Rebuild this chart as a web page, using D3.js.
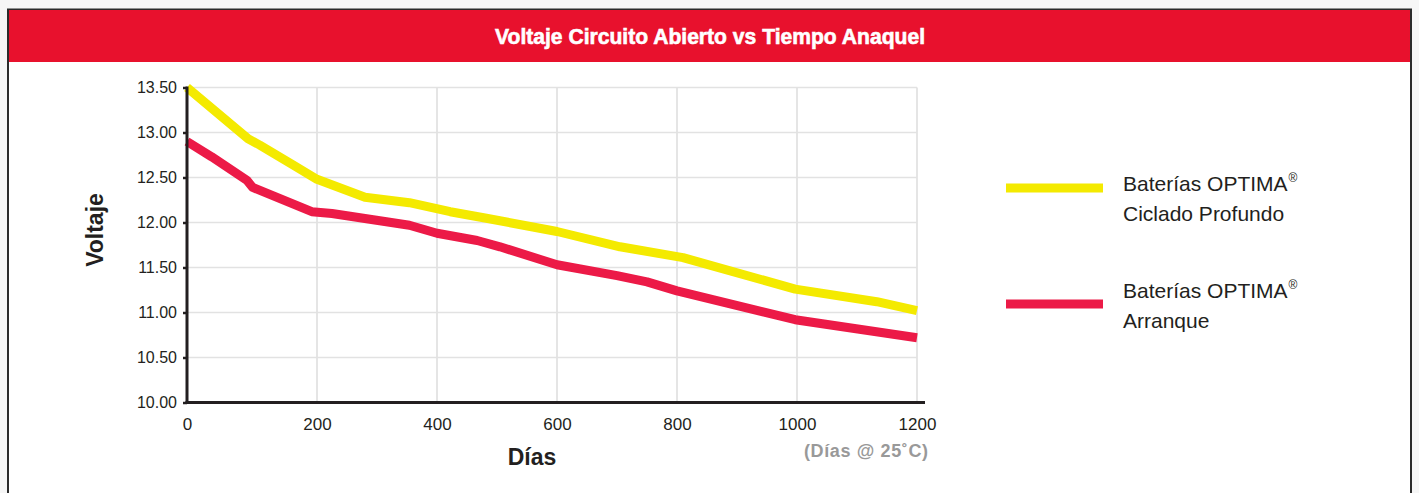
<!DOCTYPE html>
<html>
<head>
<meta charset="utf-8">
<script src="https://cdn.jsdelivr.net/npm/d3@7"></script>
<style>
  html, body { margin: 0; padding: 0; background: #f6f6f6; }
  svg { display: block; }
  text { font-family: "Liberation Sans", Arial, Helvetica, sans-serif; }
</style>
</head>
<body>
<svg id="chart" width="1419" height="493"></svg>
<script>
// chart data
const title = 'Voltaje Circuito Abierto vs Tiempo Anaquel';
const xTicks = [0, 200, 400, 600, 800, 1000, 1200];
const yTicks = [10.0, 10.5, 11.0, 11.5, 12.0, 12.5, 13.0, 13.5];

const deepCycleDays = [0, 94, 112, 163, 200, 280, 354, 422, 480, 600, 705, 810, 997, 1133, 1200];
const deepCycleVolts = [13.5, 12.93, 12.86, 12.64, 12.48, 12.28, 12.22, 12.12, 12.05, 11.90, 11.73, 11.61, 11.26, 11.12, 11.02];

const startingDays = [0, 38, 92, 101, 192, 225, 354, 400, 467, 505, 600, 700, 750, 800, 997, 1200];
const startingVolts = [12.9, 12.73, 12.47, 12.39, 12.12, 12.10, 11.97, 11.88, 11.80, 11.73, 11.53, 11.41, 11.34, 11.24, 10.92, 10.72];

const seriesNames = [['Baterías OPTIMA', 'Ciclado Profundo'], ['Baterías OPTIMA', 'Arranque']];
const seriesColors = ['#f4ea00', '#ec1a47'];

const series = [
  deepCycleDays.map((d, i) => ({ d, v: deepCycleVolts[i] })),
  startingDays.map((d, i) => ({ d, v: startingVolts[i] }))
];

const svg = d3.select('#chart');
const ink = '#231f20';

// frame + header band
svg.append('rect')
  .attr('x', 8).attr('y', 9.5).attr('width', 1403).attr('height', 500)
  .attr('fill', '#fff').attr('stroke', '#2b2b2b').attr('stroke-width', 2);
svg.append('rect')
  .attr('x', 9).attr('y', 10).attr('width', 1401).attr('height', 52)
  .attr('fill', '#e8112d');
svg.append('text')
  .attr('x', 710).attr('y', 44)
  .attr('text-anchor', 'middle')
  .attr('fill', '#fff')
  .attr('stroke', '#fff').attr('stroke-width', 0.6)
  .attr('font-family', 'Roboto, "Liberation Sans", sans-serif')
  .attr('font-weight', 900)
  .attr('font-size', 22)
  .attr('textLength', 430)
  .attr('lengthAdjust', 'spacingAndGlyphs')
  .text(title);

// scales (axis origin sits a bit left of the first grid step)
const x = d3.scaleLinear().domain([0, 200, 1200]).range([187, 317, 917]);
const y = d3.scaleLinear().domain([10, 13.5]).range([402.5, 87.5]);

const g = svg.append('g');

// grid
g.selectAll('.vgrid')
  .data(xTicks.filter(d => d > 0))
  .enter().append('line')
  .attr('x1', d => x(d)).attr('x2', d => x(d))
  .attr('y1', y(10)).attr('y2', y(13.5))
  .attr('stroke', '#dcdcdc').attr('stroke-width', 1.5);

g.selectAll('.hgrid')
  .data(yTicks.filter(d => d > 10))
  .enter().append('line')
  .attr('x1', x(0)).attr('x2', x(1200))
  .attr('y1', d => y(d)).attr('y2', d => y(d))
  .attr('stroke', '#e2e2e2').attr('stroke-width', 1.5);

// lines
const line = d3.line().x(p => x(p.d)).y(p => y(p.v));
series.forEach((s, i) => {
  g.append('path')
    .datum(s)
    .attr('d', line)
    .attr('fill', 'none')
    .attr('stroke', seriesColors[i])
    .attr('stroke-width', 9)
    .attr('stroke-linejoin', 'round');
});

// y axis
const yAxis = g.append('g')
  .attr('transform', `translate(${x(0)},0)`)
  .call(d3.axisLeft(y).tickValues(yTicks).tickSize(4).tickSizeOuter(0).tickPadding(6)
    .tickFormat(d3.format('.2f')));
yAxis.select('.domain').remove();
yAxis.selectAll('.tick line').attr('stroke', ink).attr('stroke-width', 2.5);
yAxis.selectAll('.tick text')
  .attr('fill', ink).attr('font-size', 16).attr('font-family', '"Liberation Sans", Arial, sans-serif');
g.append('line')
  .attr('x1', x(0)).attr('x2', x(0))
  .attr('y1', y(13.5) - 1).attr('y2', y(10) + 1.5)
  .attr('stroke', ink).attr('stroke-width', 3);

// x axis
const xAxis = g.append('g')
  .attr('transform', `translate(0,${y(10)})`)
  .call(d3.axisBottom(x).tickValues(xTicks).tickSize(0).tickPadding(15).tickFormat(d3.format('d')));
xAxis.select('.domain').remove();
xAxis.selectAll('.tick text')
  .attr('fill', ink).attr('font-size', 17).attr('font-family', '"Liberation Sans", Arial, sans-serif');
g.append('line')
  .attr('x1', x(0) - 1.5).attr('x2', x(1200) + 8)
  .attr('y1', y(10)).attr('y2', y(10))
  .attr('stroke', ink).attr('stroke-width', 3);

// axis titles
svg.append('text')
  .attr('x', 532).attr('y', 465)
  .attr('text-anchor', 'middle')
  .attr('fill', ink).attr('font-weight', 700).attr('font-size', 23)
  .text('Días');
svg.append('text')
  .attr('transform', 'translate(103,230) rotate(-90)')
  .attr('text-anchor', 'middle')
  .attr('fill', ink).attr('font-weight', 700).attr('font-size', 23)
  .text('Voltaje');
svg.append('text')
  .attr('x', 928).attr('y', 457)
  .attr('text-anchor', 'end')
  .attr('fill', '#999').attr('font-weight', 700).attr('font-size', 18)
  .attr('textLength', 124).attr('lengthAdjust', 'spacing')
  .text('(Días @ 25˚C)');

// legend
const legend = svg.append('g');
const legendLineY = [188, 304];
const legendTextY = [191, 298];
seriesNames.forEach((lines, i) => {
  const ly = legendLineY[i], ty = legendTextY[i];
  legend.append('line')
    .attr('x1', 1006).attr('x2', 1103)
    .attr('y1', ly).attr('y2', ly)
    .attr('stroke', seriesColors[i]).attr('stroke-width', 9);
  const t = legend.append('text')
    .attr('x', 1123).attr('y', ty)
    .attr('fill', ink).attr('font-size', 21);
  t.append('tspan').text(lines[0]);
  t.append('tspan').attr('font-size', 12).attr('dy', -9).attr('dx', 1).text('®');
  legend.append('text')
    .attr('x', 1123).attr('y', ty + 30)
    .attr('fill', ink).attr('font-size', 21)
    .text(lines[1]);
});
</script>
</body>
</html>
